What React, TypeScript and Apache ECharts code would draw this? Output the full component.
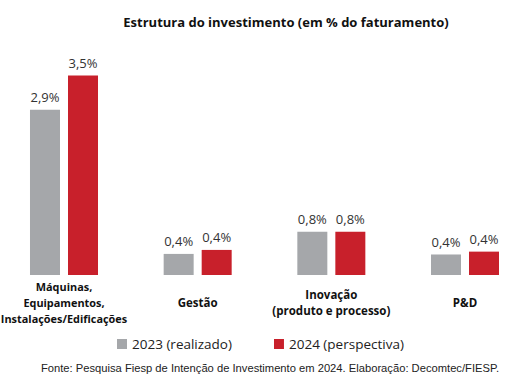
import React, { useEffect, useRef } from "react";
import * as echarts from "echarts";

const categories = [
  "Máquinas,\nEquipamentos,\nInstalações/Edificações",
  "Gestão",
  "Inovação\n(produto e processo)",
  "P&D",
];
const series2023 = [2.9, 0.37, 0.76, 0.36];
const series2024 = [3.5, 0.44, 0.76, 0.41];
const seriesNames = ["2023 (realizado)", "2024 (perspectiva)"];
const titleText = "Estrutura do investimento (em % do faturamento)";
const footerText =
  "Fonte: Pesquisa Fiesp de Intenção de Investimento em 2024. Elaboração: Decomtec/FIESP.";

const GRAY = "#A5A7AA";
const RED = "#C8202B";
const FONT = "'Open Sans', sans-serif";

export default function App() {
  const ref = useRef<HTMLDivElement>(null);
  useEffect(() => {
    if (!ref.current) return;
    const chart = echarts.init(ref.current, null, { renderer: "svg" });
    const label = {
      show: true,
      position: "top",
      distance: 6,
      color: "#333",
      fontFamily: FONT,
      fontSize: 13,
      formatter: (p: any) => p.value.toFixed(1).replace(".", ",") + "%",
    };
    chart.setOption({
      animation: false,
      backgroundColor: "#fff",
      grid: {
        left: 64,
        right: 57,
        top: 47,
        height: 228,
        containLabel: false,
        outerBoundsMode: "none",
      },
      legend: {
        left: 117,
        top: 337,
        padding: 0,
        itemWidth: 10,
        itemHeight: 10,
        itemGap: 42,
        icon: "rect",
        textStyle: { fontFamily: FONT, fontSize: 13.5, color: "#222" },
        data: seriesNames,
      },
      xAxis: {
        type: "category",
        data: categories,
        boundaryGap: false,
        axisLine: { show: false },
        axisTick: { show: false },
        axisLabel: {
          interval: 0,
          margin: 27,
          verticalAlign: "middle",
          fontFamily: FONT,
          fontWeight: "bold",
          fontSize: 11.5,
          lineHeight: 16,
          color: "#111",
          formatter: (v: string, i: number) => (i === 0 ? "{s|" + v.split("\n").join("}\n{s|") + "}" : v),
          rich: {
            s: {
              fontFamily: FONT,
              fontWeight: "bold",
              fontSize: 10.9,
              lineHeight: 16,
              color: "#111",
            },
          },
        },
      },
      yAxis: { type: "value", min: 0, max: 4, show: false, splitLine: { show: false } },
      series: [
        {
          name: seriesNames[0],
          type: "bar",
          data: series2023,
          barWidth: 30,
          barGap: "26.7%",
          clip: false,
          itemStyle: { color: GRAY },
          label,
        },
        {
          name: seriesNames[1],
          type: "bar",
          data: series2024,
          barWidth: 30,
          clip: false,
          itemStyle: { color: RED },
          label,
        },
      ],
      graphic: [
        {
          type: "text",
          x: 286,
          y: 22,
          style: {
            text: titleText,
            align: "center",
            verticalAlign: "middle",
            font: `bold 13px ${FONT}`,
            fill: "#111",
          },
        },
        {
          type: "text",
          x: 270,
          y: 368,
          style: {
            text: footerText,
            align: "center",
            verticalAlign: "middle",
            font: "11.2px 'Liberation Sans', Arial, sans-serif",
            fill: "#222",
          },
        },
      ],
    });
    return () => chart.dispose();
  }, []);
  return <div ref={ref} style={{ width: 522, height: 380, position: "absolute", left: 0, top: 0 }} />;
}
